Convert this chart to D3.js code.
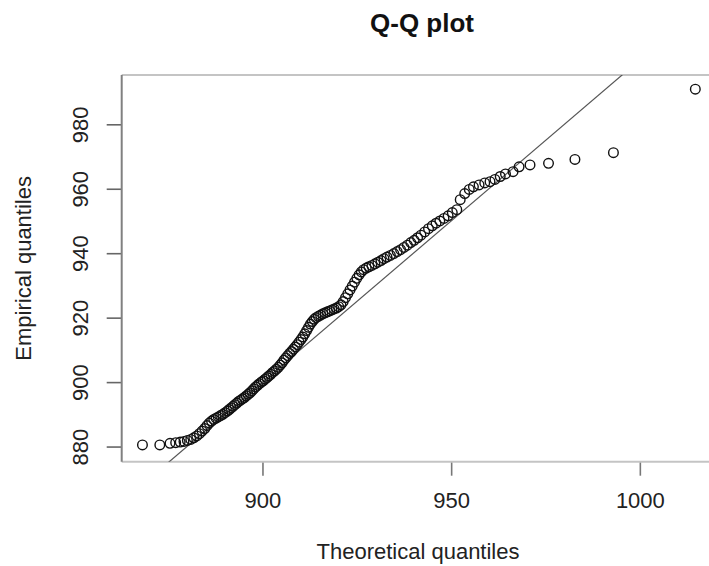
<!DOCTYPE html>
<html>
<head>
<meta charset="utf-8">
<script src="https://cdn.jsdelivr.net/npm/d3@7"></script>
<style>
  html, body { margin: 0; padding: 0; background: #fff; }
  svg { display: block; font-family: "Liberation Sans", Arial, sans-serif; }
</style>
</head>
<body>
<svg id="chart" width="709" height="566"></svg>
<script>
// ---- Data ----
const chartTitle = "Q-Q plot";
const xTitle = "Theoretical quantiles";
const yTitle = "Empirical quantiles";
const xTicks = [900, 950, 1000];
const yTicks = [880, 900, 920, 940, 960, 980];
const xDomain = [862.7, 1022.3];
const yDomain = [875.3, 995.3];
const refIntercept = 0;
const refSlope = 1;

const theoretical = [
  868.2, 872.8, 875.5, 877.0, 878.2, 879.2, 880.1, 881.0, 881.8, 882.6,
  883.3, 884.0, 884.7, 885.3, 885.9, 886.5, 887.1, 887.7, 888.3, 888.9,
  889.5, 890.1, 890.7, 891.2, 891.7, 892.2, 892.7, 893.2, 893.7, 894.2,
  894.7, 895.2, 895.7, 896.2, 896.7, 897.2, 897.7, 898.2, 898.7, 899.2,
  899.7, 900.2, 900.7, 901.2, 901.7, 902.2, 902.7, 903.2, 903.7, 904.2,
  904.7, 905.2, 905.7, 906.2, 906.7, 907.2, 907.7, 908.2, 908.7, 909.2,
  909.7, 910.2, 910.7, 911.2, 911.7, 912.2, 912.7, 913.2, 913.7, 914.2,
  914.8, 915.4, 916.0, 916.6, 917.2, 917.8, 918.4, 919.0, 919.6, 920.2,
  920.8, 921.4, 922.0, 922.6, 923.2, 923.8, 924.4, 925.0, 925.6, 926.2,
  926.8, 927.5, 928.2, 929.0, 929.8, 930.6, 931.4, 932.2, 933.0, 933.9,
  934.8, 935.7, 936.6, 937.5, 938.4, 939.3, 940.2, 941.1, 942.0, 943.0,
  944.0, 945.0, 946.0, 947.0, 948.1, 949.2, 950.3, 951.5, 952.4, 953.6,
  954.8, 955.9, 957.4, 958.9, 960.3, 961.6, 963.0, 964.4, 966.4, 968.0,
  970.9, 975.8, 982.8, 993.0, 1014.7
];
const empirical = [
  880.5, 880.5, 881.0, 881.2, 881.4, 881.6, 881.9, 882.2, 882.7, 883.3,
  884.0, 884.8, 885.6, 886.5, 887.3, 887.9, 888.4, 888.8, 889.2, 889.6,
  890.0, 890.5, 891.0, 891.5, 892.0, 892.5, 893.0, 893.5, 894.0, 894.4,
  894.8, 895.2, 895.7, 896.2, 896.7, 897.3, 897.9, 898.5, 899.0, 899.5,
  900.0, 900.4, 900.9, 901.4, 901.9, 902.4, 903.0, 903.5, 904.0, 904.6,
  905.3, 906.0, 906.8, 907.5, 908.2, 908.9, 909.5, 910.2, 910.9, 911.6,
  912.4, 913.2, 914.0, 915.0, 916.0, 917.0, 918.0, 918.8, 919.5, 920.0,
  920.4, 920.8, 921.2, 921.5, 921.8, 922.1, 922.4, 922.7, 923.0, 923.4,
  924.0, 925.0, 926.2, 927.4, 928.6, 929.8, 931.0, 932.2, 933.3, 934.2,
  934.9, 935.4, 935.8, 936.2, 936.7, 937.2, 937.7, 938.3, 938.8, 939.3,
  939.9, 940.5, 941.1, 941.8, 942.5, 943.3, 944.0, 944.8, 945.6, 946.6,
  947.6, 948.5, 949.3, 950.0, 950.8, 951.6, 952.6, 953.5, 956.6, 958.5,
  959.8, 960.6, 961.2, 961.8, 962.2, 962.9, 963.8, 964.6, 965.3, 966.8,
  967.4, 967.9, 969.1, 971.2, 990.9
];

// ---- Layout ----
const svg = d3.select("#chart");
const plot = { left: 121.7, right: 724, top: 75, bottom: 461.7 };

const x = d3.scaleLinear().domain(xDomain).range([plot.left, plot.right]);
const y = d3.scaleLinear().domain(yDomain).range([plot.bottom, plot.top]);

svg.append("defs").append("clipPath").attr("id", "plotClip")
  .append("rect")
  .attr("x", plot.left).attr("y", plot.top)
  .attr("width", plot.right - plot.left).attr("height", plot.bottom - plot.top);

// Title
svg.append("text")
  .attr("x", 422).attr("y", 32)
  .attr("text-anchor", "middle")
  .attr("font-size", 26).attr("font-weight", "bold")
  .attr("fill", "#111")
  .text(chartTitle);

// X axis
const xAxis = svg.append("g")
  .attr("transform", `translate(0,${plot.bottom})`)
  .call(d3.axisBottom(x).tickValues(xTicks).tickSize(14).tickPadding(17).tickFormat(d3.format("d")));
xAxis.select(".domain").remove();
xAxis.selectAll(".tick line").attr("stroke", "#777").attr("stroke-width", 1.6);
xAxis.selectAll(".tick text")
  .attr("font-size", 22).attr("fill", "#222")
  .attr("font-family", "Liberation Sans, Arial, sans-serif");

// Y axis
const yAxis = svg.append("g")
  .attr("transform", `translate(${plot.left},0)`)
  .call(d3.axisLeft(y).tickValues(yTicks).tickSize(15).tickFormat(d3.format("d")));
yAxis.select(".domain").remove();
yAxis.selectAll(".tick line").attr("stroke", "#666").attr("stroke-width", 1.6);
yAxis.selectAll(".tick text")
  .attr("font-size", 22).attr("fill", "#222")
  .attr("font-family", "Liberation Sans, Arial, sans-serif")
  .attr("text-anchor", "middle")
  .attr("x", 0).attr("dy", 0)
  .attr("transform", "translate(-42,0) rotate(-90) translate(0,8)");

// Plot box
const box = svg.append("g").attr("fill", "none");
box.append("line").attr("x1", plot.left).attr("x2", plot.right)
  .attr("y1", plot.top).attr("y2", plot.top).attr("stroke", "#c4c4c4").attr("stroke-width", 2);
box.append("line").attr("x1", plot.left).attr("x2", plot.right)
  .attr("y1", plot.bottom).attr("y2", plot.bottom).attr("stroke", "#c4c4c4").attr("stroke-width", 2);
box.append("line").attr("x1", plot.left).attr("x2", plot.left)
  .attr("y1", plot.top).attr("y2", plot.bottom).attr("stroke", "#808080").attr("stroke-width", 2);
box.append("line").attr("x1", plot.right).attr("x2", plot.right)
  .attr("y1", plot.top).attr("y2", plot.bottom).attr("stroke", "#808080").attr("stroke-width", 2);

// Reference line y = a + b x
const refXs = xDomain;
svg.append("line")
  .attr("clip-path", "url(#plotClip)")
  .attr("x1", x(refXs[0])).attr("y1", y(refIntercept + refSlope * refXs[0]))
  .attr("x2", x(refXs[1])).attr("y2", y(refIntercept + refSlope * refXs[1]))
  .attr("stroke", "#555").attr("stroke-width", 1.2);

// Points
const pts = theoretical.map((t, i) => ({ t, e: empirical[i] }));
svg.append("g").selectAll("circle")
  .data(pts).join("circle")
  .attr("cx", d => x(d.t)).attr("cy", d => y(d.e))
  .attr("r", 4.8)
  .attr("fill", "none").attr("stroke", "#111").attr("stroke-width", 1.4);

// Axis titles
svg.append("text")
  .attr("x", 418).attr("y", 559)
  .attr("text-anchor", "middle")
  .attr("font-size", 22).attr("fill", "#222")
  .text(xTitle);
svg.append("text")
  .attr("transform", `translate(31,${(plot.top + plot.bottom) / 2}) rotate(-90)`)
  .attr("text-anchor", "middle")
  .attr("font-size", 22).attr("fill", "#222")
  .text(yTitle);
</script>
</body>
</html>
